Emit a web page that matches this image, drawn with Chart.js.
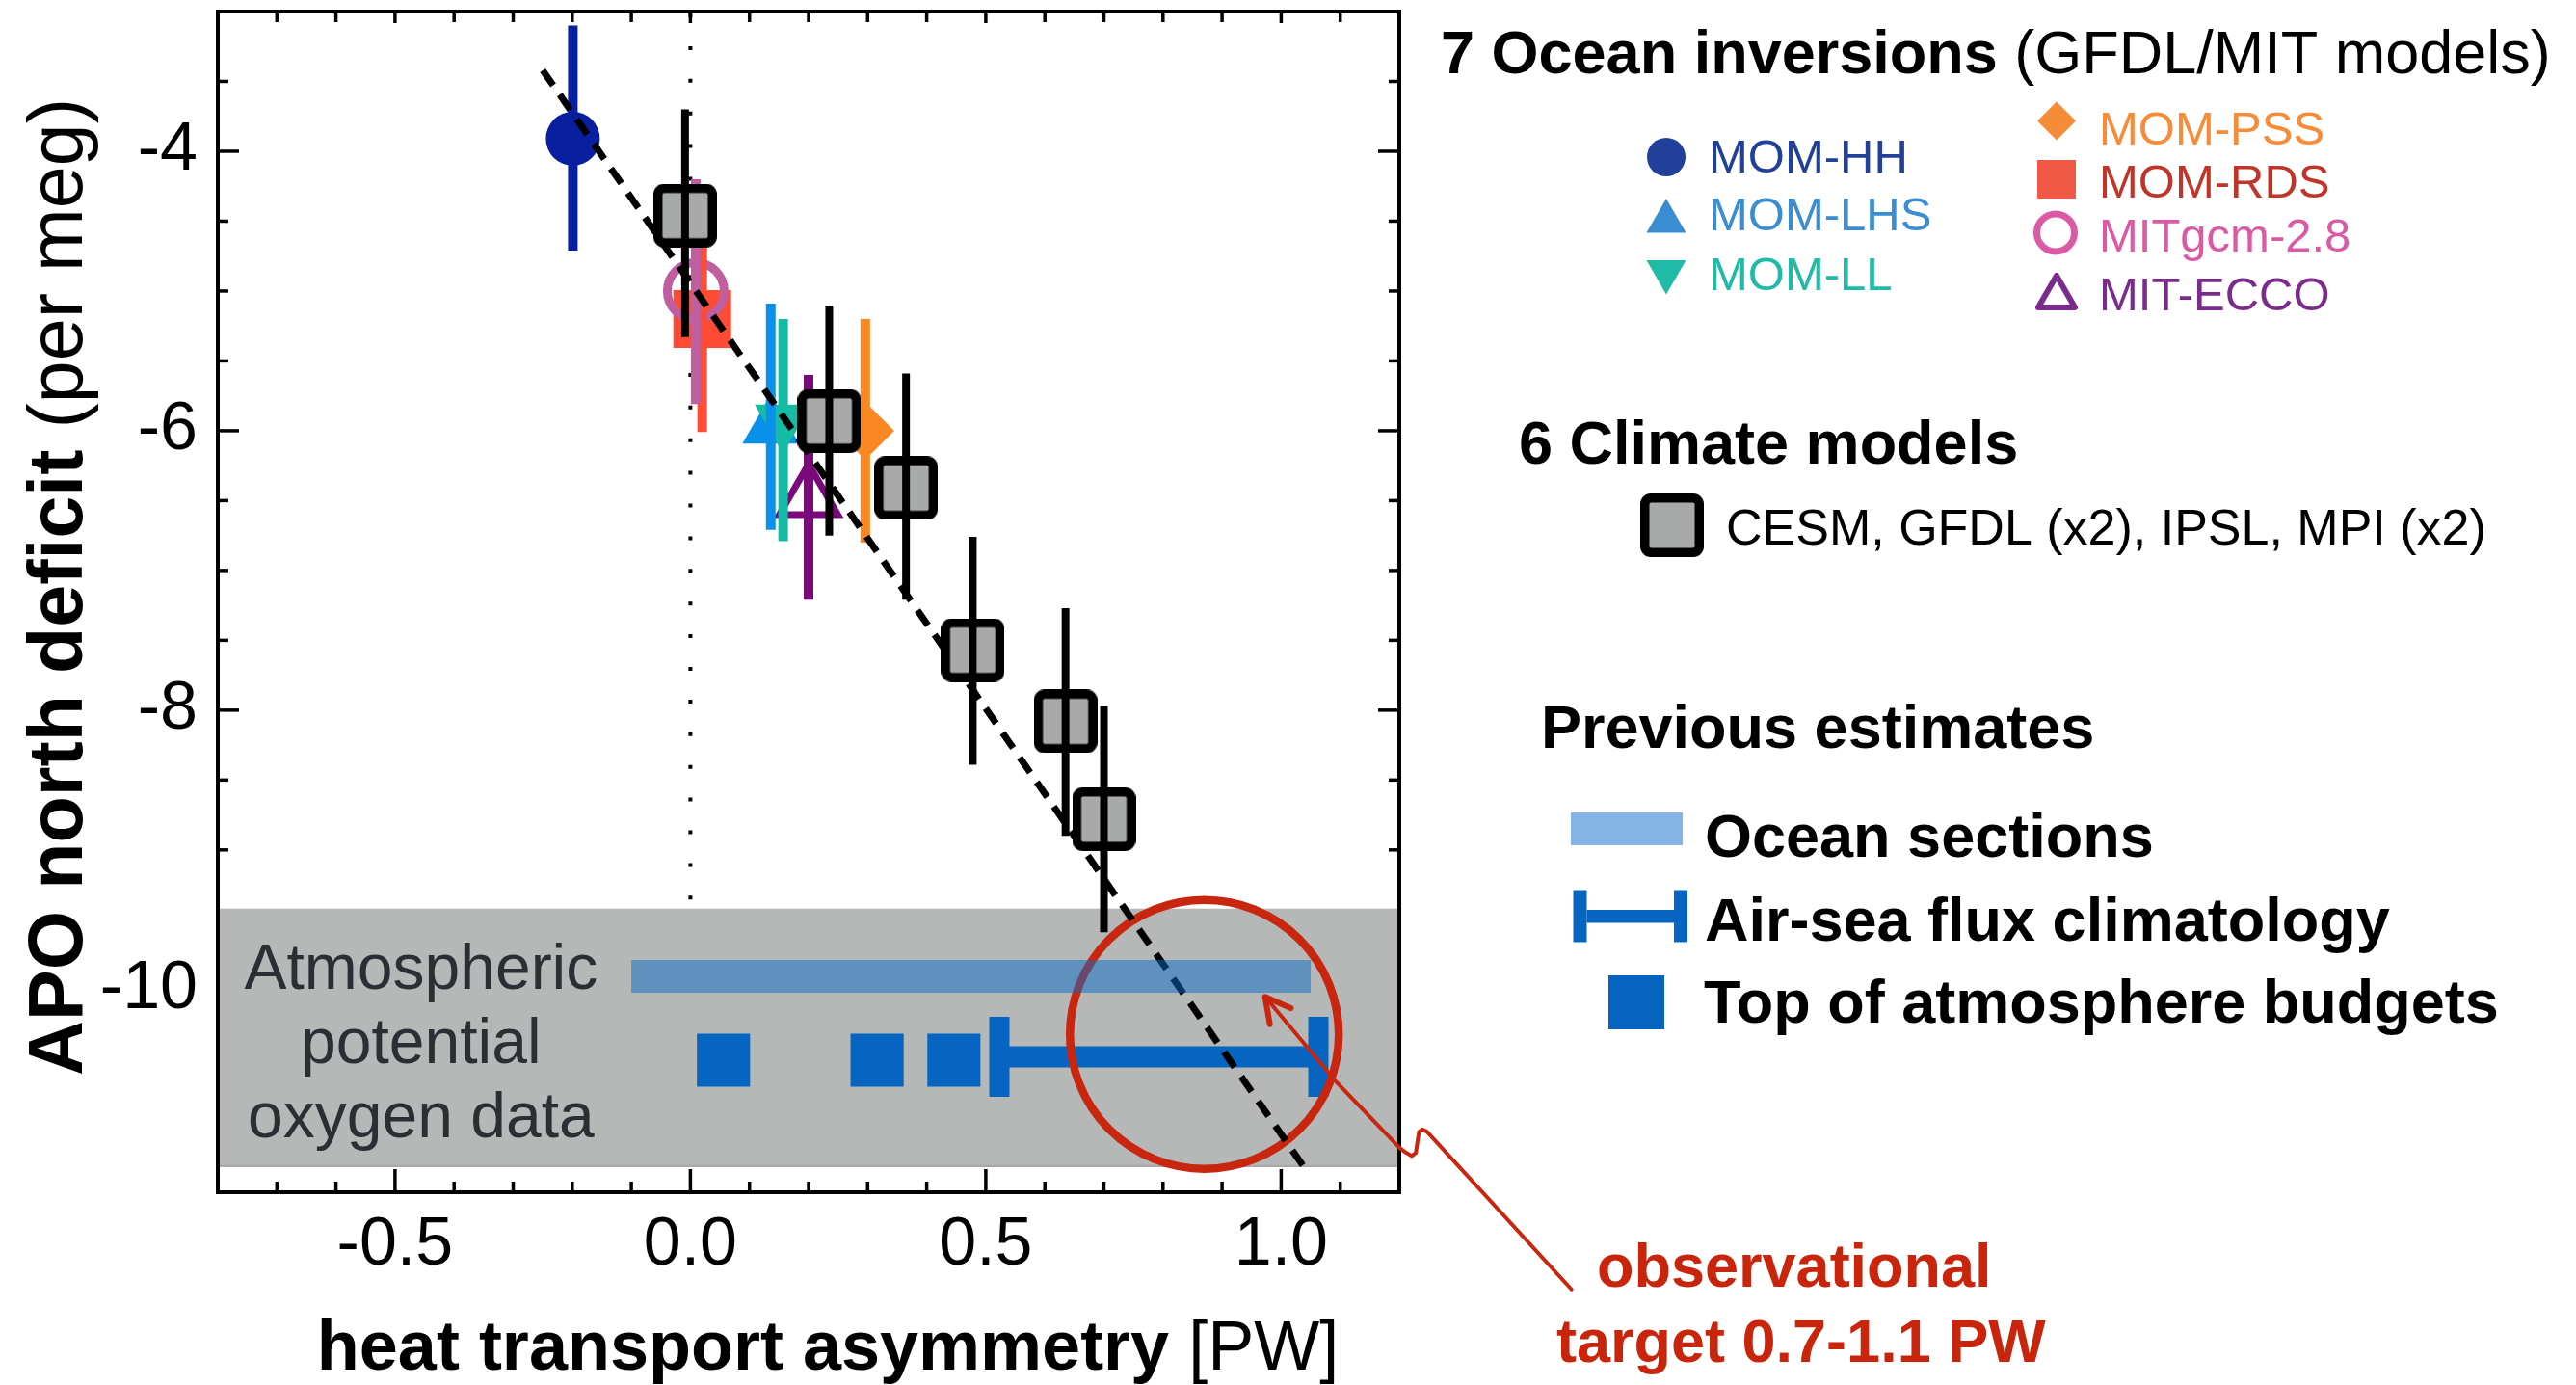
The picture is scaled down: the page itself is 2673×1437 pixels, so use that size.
<!DOCTYPE html>
<html>
<head>
<meta charset="utf-8">
<script src="https://cdn.jsdelivr.net/npm/chart.js@4.4.1/dist/chart.umd.min.js"></script>
<style>
  html, body { margin: 0; padding: 0; background: #fff; }
  canvas { display: block; }
</style>
</head>
<body>
<canvas id="apo" width="2673" height="1437"></canvas>
<script>
const FONT = '"Liberation Sans", Arial, Helvetica, sans-serif';

// ---- Axis ticks (PW on x, per meg on y) ----
const xMajorTicks = [-0.5, 0.0, 0.5, 1.0];
const xMinorTicks = [-0.7, -0.6, -0.4, -0.3, -0.2, -0.1, 0.1, 0.2, 0.3, 0.4, 0.6, 0.7, 0.8, 0.9, 1.1];
const yMajorTicks = [-10, -8, -6, -4];
const yMinorTicks = [-11, -10.5, -9.5, -9, -8.5, -7.5, -7, -6.5, -5.5, -5, -4.5, -3.5];

// ---- Ocean inversions (GFDL/MIT models) ----
const inversionNames = ['MOM-HH', 'MOM-LHS', 'MOM-LL', 'MOM-PSS', 'MOM-RDS', 'MITgcm-2.8', 'MIT-ECCO'];
const inversionX     = [-0.199, 0.136, 0.157, 0.296, 0.020, 0.009, 0.200];
const inversionY     = [-3.91, -5.975, -5.93, -6.00, -5.20, -5.00, -6.48];
const inversionLow   = [-4.71, -6.71, -6.79, -6.80, -6.01, -5.81, -7.21];
const inversionHigh  = [-3.10, -5.09, -5.20, -5.20, -4.39, -4.20, -5.60];

// ---- Climate models: CESM, GFDL (x2), IPSL, MPI (x2) ----
const climateX    = [-0.009, 0.235, 0.365, 0.478, 0.635, 0.700];
const climateY    = [-4.46, -5.93, -6.41, -7.57, -8.08, -8.78];
const climateLow  = [-5.33, -6.75, -7.21, -8.39, -8.90, -9.59];
const climateHigh = [-3.70, -5.11, -5.59, -6.76, -7.27, -7.97];

// ---- Linear fit through the models ----
const fitX = [-0.25, 1.037];
const fitY = [-3.42, -11.26];

// ---- Atmospheric potential oxygen data (observed range) ----
const apoBand = [-11.27, -9.42];
const targetCenter = [0.870, -10.32];

// ---- Previous estimates of heat transport asymmetry ----
const oceanSectionsX = [-0.10, 1.05];
const oceanSectionsY = -9.905;
const airSeaFluxX = [0.523, 1.063];
const airSeaFluxY = -10.48;
const toaBudgetX = [0.056, 0.316, 0.446];
const toaBudgetY = -10.505;

// ---- Leader from the target circle to its caption ----
const leaderX = [0.9728, 1.0912, 1.2008, 1.2117, 1.2210, 1.2280, 1.2308, 1.2334, 1.2389, 1.2471, 1.4914];
const leaderY = [-10.052, -10.650, -11.133, -11.168, -11.190, -11.168, -11.087, -11.018, -11.000, -11.018, -12.145];
const arrowHeadX = [1.0163, 0.9728, 0.9809];
const arrowHeadY = [-10.133, -10.052, -10.248];

const bandLabelLines = ['Atmospheric', 'potential', 'oxygen data'];
const bandLabelX = -0.456;

// marker styles for each inversion
const inversionStyle = [
  { pointStyle: 'circle',   radius: 28,   rotation: 0,   fill: '#0a1fa0', stroke: '#0a1fa0', bw: 0, bar: '#0a1fa0', order: 3 },
  { pointStyle: 'triangle', radius: 34,   rotation: 0,   fill: '#0a90e8', stroke: '#0a90e8', bw: 0, bar: '#0a90e8', order: 9 },
  { pointStyle: 'triangle', radius: 34,   rotation: 180, fill: '#15bca5', stroke: '#15bca5', bw: 0, bar: '#15bca5', order: 8 },
  { pointStyle: 'rectRot',  radius: 30,   rotation: 0,   fill: '#fb8722', stroke: '#fb8722', bw: 0, bar: '#fb8722', order: 4 },
  { pointStyle: 'rect',     radius: 42.4, rotation: 0,   fill: '#fe4b33', stroke: '#fe4b33', bw: 0, bar: '#fe4b33', order: 7 },
  { pointStyle: 'circle',   radius: 29.5, rotation: 0,   fill: 'rgba(0,0,0,0)', stroke: '#bf5fa0', bw: 9, bar: '#bf5fa0', order: 6 },
  { pointStyle: 'triangle', radius: 35,   rotation: 0,   fill: 'rgba(0,0,0,0)', stroke: '#7a0a7c', bw: 7, bar: '#7a0a7c', order: 5 }
];

// legend colours (slightly softer than the plotted symbols)
const legendInk = ['#21409a', '#3a8dd0', '#1fbba6', '#f68b38', '#c0352a', '#db5aa5', '#7b2b8b'];
const legendFill = ['#21409a', '#3a8dd0', '#1fbba6', '#f68b38', '#ef5945', '#db5aa5', '#7b2b8b'];

const TOA_BLUE = '#0565c0';
const SECTIONS_BLUE = 'rgba(9,106,199,0.5)';
const TARGET_RED = '#c8260e';

// rounded grey square used for the climate models
function makeModelSquare(size, border, corner) {
  const c = document.createElement('canvas');
  c.width = size; c.height = size;
  const g = c.getContext('2d');
  g.fillStyle = '#000';
  g.beginPath(); g.roundRect(0, 0, size, size, corner); g.fill();
  g.fillStyle = '#a7aaa8';
  g.beginPath(); g.roundRect(border, border, size - 2 * border, size - 2 * border, 2); g.fill();
  return c;
}
const modelSquare = makeModelSquare(66, 9.5, 11);

Chart.defaults.font.family = FONT;

const inversionDatasets = inversionNames.map((name, i) => ({
  type: 'scatter',
  label: name,
  data: [{ x: inversionX[i], y: inversionY[i] }],
  pointStyle: inversionStyle[i].pointStyle,
  pointRadius: inversionStyle[i].radius,
  pointRotation: inversionStyle[i].rotation,
  pointBackgroundColor: inversionStyle[i].fill,
  pointBorderColor: inversionStyle[i].stroke,
  pointBorderWidth: inversionStyle[i].bw,
  order: inversionStyle[i].order,
  errGroup: 'inversions',
  errLow: [inversionLow[i]],
  errHigh: [inversionHigh[i]],
  errColor: inversionStyle[i].bar,
  errWidth: 10,
  barGroup: i === 0 ? 'inversions' : null
}));

const datasets = [
  {
    type: 'line', label: 'Ocean sections',
    data: oceanSectionsX.map(v => ({ x: v, y: oceanSectionsY })),
    borderColor: SECTIONS_BLUE, borderWidth: 34, borderCapStyle: 'butt',
    pointRadius: 0, fill: false, order: 0
  },
  {
    type: 'scatter', label: 'CESM, GFDL (x2), IPSL, MPI (x2)',
    data: climateX.map((v, i) => ({ x: v, y: climateY[i] })),
    pointStyle: modelSquare, pointRadius: 33, order: 1,
    errGroup: 'climate', barGroup: 'climate',
    errLow: climateLow, errHigh: climateHigh, errColor: '#000', errWidth: 8
  },
  {
    type: 'line', label: 'fit',
    data: fitX.map((v, i) => ({ x: v, y: fitY[i] })),
    borderColor: '#000', borderWidth: 7, borderDash: [19, 12],
    pointRadius: 0, fill: false, order: 2
  },
  ...inversionDatasets,
  {
    type: 'scatter', label: 'observational target',
    data: [{ x: targetCenter[0], y: targetCenter[1] }],
    pointStyle: 'circle', pointRadius: 139.5, pointBorderWidth: 8.5,
    pointBorderColor: TARGET_RED, pointBackgroundColor: 'rgba(0,0,0,0)', order: 10
  },
  {
    type: 'scatter', label: 'Top of atmosphere budgets',
    data: toaBudgetX.map(v => ({ x: v, y: toaBudgetY })),
    pointStyle: 'rect', pointRadius: 39, pointBorderWidth: 0,
    pointBackgroundColor: TOA_BLUE, pointBorderColor: TOA_BLUE, order: 11
  },
  {
    type: 'line', label: 'Air-sea flux climatology',
    data: airSeaFluxX.map(v => ({ x: v, y: airSeaFluxY })),
    borderColor: TOA_BLUE, borderWidth: 22, borderCapStyle: 'butt',
    pointStyle: 'line', pointRadius: 41.5, pointRotation: 90,
    pointBorderWidth: 21, pointBorderColor: TOA_BLUE, pointBackgroundColor: TOA_BLUE,
    fill: false, order: 12
  }
];

// vertical uncertainty bars, drawn on top of each group's markers
const errorBars = {
  id: 'errorBars',
  afterDatasetDraw(chart, args) {
    const ds = chart.data.datasets[args.index];
    if (!ds.barGroup) return;
    const { ctx, scales: { x, y } } = chart;
    ctx.save();
    ctx.lineCap = 'butt';
    chart.data.datasets.forEach(d => {
      if (d.errGroup !== ds.barGroup) return;
      d.errLow.forEach((lo, i) => {
        const px = x.getPixelForValue(d.data[i].x);
        ctx.strokeStyle = d.errColor;
        ctx.lineWidth = d.errWidth;
        ctx.beginPath();
        ctx.moveTo(px, y.getPixelForValue(lo));
        ctx.lineTo(px, y.getPixelForValue(d.errHigh[i]));
        ctx.stroke();
      });
    });
    ctx.restore();
  }
};

// box frame with inward ticks, zero line and the observed APO band
const axesFrame = {
  id: 'axesFrame',
  beforeDatasetsDraw(chart) {
    const { ctx, chartArea: a, scales: { x, y } } = chart;
    ctx.save();
    ctx.strokeStyle = '#000';
    ctx.lineCap = 'butt';

    const x0 = x.getPixelForValue(0);
    ctx.lineWidth = 4;
    ctx.setLineDash([4, 29.9]);
    ctx.beginPath();
    ctx.moveTo(x0, a.top + 2);
    ctx.lineTo(x0, y.getPixelForValue(apoBand[1]));
    ctx.stroke();
    ctx.setLineDash([]);

    ctx.lineWidth = 3.5;
    const tick = (x1, y1, x2, y2) => { ctx.beginPath(); ctx.moveTo(x1, y1); ctx.lineTo(x2, y2); ctx.stroke(); };
    xMajorTicks.forEach(v => { const p = x.getPixelForValue(v); tick(p, a.bottom, p, a.bottom - 24); tick(p, a.top, p, a.top + 12); });
    xMinorTicks.forEach(v => { const p = x.getPixelForValue(v); tick(p, a.bottom, p, a.bottom - 11); tick(p, a.top, p, a.top + 11); });
    yMajorTicks.forEach(v => { const p = y.getPixelForValue(v); tick(a.left, p, a.left + 22, p); tick(a.right, p, a.right - 22, p); });
    yMinorTicks.forEach(v => { const p = y.getPixelForValue(v); tick(a.left, p, a.left + 11, p); tick(a.right, p, a.right - 11, p); });

    const bTop = y.getPixelForValue(apoBand[1]);
    const bBot = y.getPixelForValue(apoBand[0]);
    ctx.fillStyle = '#b5b8b7';
    ctx.fillRect(a.left, bTop, a.right - a.left, bBot - bTop);
    ctx.fillStyle = '#a9a6a7';
    ctx.fillRect(a.left, bBot - 2, a.right - a.left, 2);

    ctx.fillStyle = '#2b2f34';
    ctx.font = '66px ' + FONT;
    ctx.textAlign = 'center';
    ctx.textBaseline = 'alphabetic';
    const lx = x.getPixelForValue(bandLabelX);
    bandLabelLines.forEach((t, i) => ctx.fillText(t, lx, bTop + 83 + i * 77));

    ctx.lineWidth = 4;
    ctx.strokeRect(a.left, a.top, a.right - a.left, a.bottom - a.top);
    ctx.restore();
  }
};

function drawRuns(ctx, runs, x, y, align) {
  let total = 0;
  runs.forEach(r => { ctx.font = r.font; r.w = ctx.measureText(r.text).width; total += r.w; });
  let cx = align === 'center' ? x - total / 2 : x;
  ctx.textAlign = 'left';
  runs.forEach(r => { ctx.font = r.font; ctx.fillStyle = r.color || '#000'; ctx.fillText(r.text, cx, y); cx += r.w; });
}

function marker(ctx, style, radius, rotation, fill, stroke, bw, px, py) {
  ctx.save();
  ctx.fillStyle = fill;
  ctx.strokeStyle = stroke;
  ctx.lineWidth = bw;
  Chart.helpers.drawPoint(ctx, { pointStyle: style, radius: radius, rotation: rotation, borderWidth: bw }, px, py);
  ctx.restore();
}

// titles, legend and the target annotation
const annotations = {
  id: 'annotations',
  afterDraw(chart) {
    const { ctx, scales: { x, y } } = chart;
    ctx.save();
    ctx.textBaseline = 'alphabetic';

    // leader line and arrow
    ctx.strokeStyle = TARGET_RED;
    ctx.lineJoin = 'round';
    ctx.lineCap = 'round';
    ctx.lineWidth = 4;
    ctx.beginPath();
    leaderX.forEach((v, i) => {
      const px = x.getPixelForValue(v), py = y.getPixelForValue(leaderY[i]);
      if (i === 0) ctx.moveTo(px, py); else ctx.lineTo(px, py);
    });
    ctx.stroke();
    ctx.lineWidth = 6;
    ctx.beginPath();
    arrowHeadX.forEach((v, i) => {
      const px = x.getPixelForValue(v), py = y.getPixelForValue(arrowHeadY[i]);
      if (i === 0) ctx.moveTo(px, py); else ctx.lineTo(px, py);
    });
    ctx.stroke();

    // axis titles
    drawRuns(ctx, [
      { text: 'heat transport asymmetry ', font: 'bold 72px ' + FONT },
      { text: '[PW]', font: '72px ' + FONT }
    ], 859, 1421, 'center');
    ctx.save();
    ctx.translate(85, 609);
    ctx.rotate(-Math.PI / 2);
    drawRuns(ctx, [
      { text: 'APO north deficit ', font: 'bold 79px ' + FONT },
      { text: '(per meg)', font: '79px ' + FONT }
    ], 0, 0, 'center');
    ctx.restore();

    // legend: ocean inversions
    drawRuns(ctx, [
      { text: '7 Ocean inversions ', font: 'bold 63px ' + FONT },
      { text: '(GFDL/MIT models)', font: '63px ' + FONT }
    ], 1495, 76, 'left');

    const legendPos = [
      { mx: 1729, my: 163,   tx: 1773, ty: 178.5, r: 20,   style: 'circle',   rot: 0,   bw: 0 },
      { mx: 1729, my: 229.7, tx: 1773, ty: 239,   r: 23.7, style: 'triangle', rot: 0,   bw: 0 },
      { mx: 1729, my: 281.8, tx: 1773, ty: 301,   r: 23.7, style: 'triangle', rot: 180, bw: 0 },
      { mx: 2134, my: 125.5, tx: 2178, ty: 149.5, r: 20,   style: 'rectRot',  rot: 0,   bw: 0 },
      { mx: 2134, my: 186,   tx: 2178, ty: 205,   r: 28.3, style: 'rect',     rot: 0,   bw: 0 },
      { mx: 2133, my: 241.5, tx: 2178, ty: 261,   r: 19.5, style: 'circle',   rot: 0,   bw: 7 },
      { mx: 2134, my: 308,   tx: 2178, ty: 322,   r: 22,   style: 'triangle', rot: 0,   bw: 6 }
    ];
    legendPos.forEach((p, i) => {
      const open = p.bw > 0;
      marker(ctx, p.style, p.r, p.rot, open ? 'rgba(0,0,0,0)' : legendFill[i], legendFill[i], p.bw, p.mx, p.my);
      ctx.font = '49px ' + FONT;
      ctx.fillStyle = legendInk[i];
      ctx.textAlign = 'left';
      ctx.fillText(inversionNames[i], p.tx, p.ty);
    });

    // legend: climate models
    drawRuns(ctx, [{ text: '6 Climate models', font: 'bold 63px ' + FONT }], 1576, 481, 'left');
    ctx.drawImage(modelSquare, 1735 - 33, 545 - 33, 66, 66);
    drawRuns(ctx, [{ text: 'CESM, GFDL (x2), IPSL, MPI (x2)', font: '52px ' + FONT }], 1791, 565, 'left');

    // legend: previous estimates
    drawRuns(ctx, [{ text: 'Previous estimates', font: 'bold 63px ' + FONT }], 1599, 776, 'left');
    ctx.fillStyle = SECTIONS_BLUE;
    ctx.fillRect(1630, 843, 116, 34);
    ctx.fillStyle = TOA_BLUE;
    ctx.fillRect(1632.5, 923.5, 14, 54);
    ctx.fillRect(1737, 923.5, 14, 54);
    ctx.fillRect(1646.5, 944, 90.5, 13.5);
    ctx.fillRect(1669, 1012, 58, 56);
    drawRuns(ctx, [{ text: 'Ocean sections', font: 'bold 63px ' + FONT }], 1769, 889, 'left');
    drawRuns(ctx, [{ text: 'Air-sea flux climatology', font: 'bold 63px ' + FONT }], 1769, 976, 'left');
    drawRuns(ctx, [{ text: 'Top of atmosphere budgets', font: 'bold 63px ' + FONT }], 1768, 1061, 'left');

    // caption of the target circle
    drawRuns(ctx, [{ text: 'observational', font: 'bold 63px ' + FONT, color: '#c8250c' }], 1657, 1335, 'left');
    drawRuns(ctx, [{ text: 'target 0.7-1.1 PW', font: 'bold 63px ' + FONT, color: '#c8250c' }], 1615, 1413, 'left');

    ctx.restore();
  }
};

new Chart(document.getElementById('apo'), {
  type: 'scatter',
  data: { datasets: datasets },
  options: {
    responsive: false,
    animation: false,
    devicePixelRatio: 1,
    events: [],
    layout: { autoPadding: false, padding: { left: 0, right: 1221, top: 12, bottom: 0 } },
    plugins: { legend: { display: false }, tooltip: { enabled: false }, title: { display: false } },
    scales: {
      x: {
        type: 'linear', min: -0.8, max: 1.2,
        grid: { display: false, drawTicks: false },
        border: { display: false },
        afterFit: s => { s.height = 200; s.paddingLeft = 0; s.paddingRight = 0; s.paddingTop = 0; s.paddingBottom = 0; },
        afterBuildTicks: s => { s.ticks = xMajorTicks.map(v => ({ value: v })); },
        ticks: {
          padding: 14, color: '#000', font: { size: 70 }, maxRotation: 0, autoSkip: false,
          callback: v => Number(v).toFixed(1)
        }
      },
      y: {
        type: 'linear', min: -11.45, max: -3,
        grid: { display: false, drawTicks: false },
        border: { display: false },
        afterFit: s => { s.width = 226; s.paddingTop = 0; s.paddingBottom = 0; s.paddingLeft = 0; s.paddingRight = 0; },
        afterBuildTicks: s => { s.ticks = yMajorTicks.map(v => ({ value: v })); },
        ticks: {
          padding: 21, color: '#000', font: { size: 70 }, autoSkip: false,
          callback: v => String(v)
        }
      }
    }
  },
  plugins: [axesFrame, errorBars, annotations]
});
</script>
</body>
</html>
